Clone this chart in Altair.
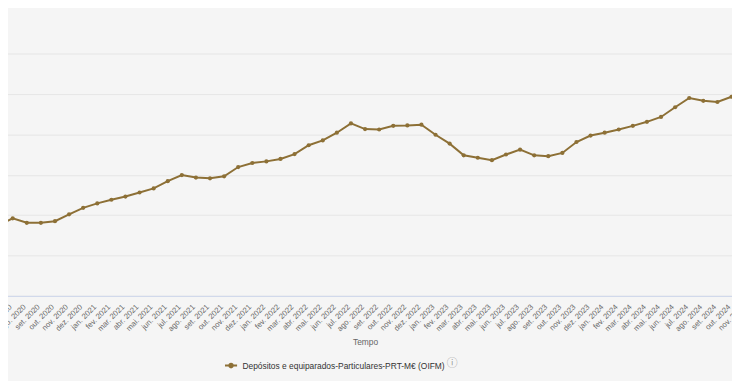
import altair as alt
import pandas as pd

series_name = "Depósitos e equiparados-Particulares-PRT-M€ (OIFM)"
month_names = ["jan.", "fev.", "mar.", "abr.", "mai.", "jun.",
               "jul.", "ago.", "set.", "out.", "nov.", "dez."]
months = [f"{m} {y}" for y in range(2020, 2025) for m in month_names][6:59]

values = [
    157470, 159200, 158100, 158100, 158500, 160200,
    161800, 162900, 163800, 164600, 165600, 166600,
    168400, 169900, 169300, 169100, 169600, 171900,
    172900, 173300, 173900, 175100, 177300, 178500,
    180400, 182700, 181300, 181200, 182100, 182200,
    182400, 179900, 177700, 174800, 174200, 173600,
    175000, 176200, 174800, 174600, 175400, 178100,
    179700, 180400, 181200, 182100, 183100, 184300,
    186700, 189000, 188300, 188000, 189300,
]
grid_values = [140000, 150000, 160000, 170000, 180000, 190000, 200000]

line_color = "#8d7036"
df = pd.DataFrame({"Tempo": months, "valor": values, "serie": series_name})

color = alt.Color(
    "serie:N",
    scale=alt.Scale(domain=[series_name], range=[line_color]),
    legend=alt.Legend(
        title=None, orient="none", legendX=218, legendY=308,
        labelFont="Liberation Sans", labelFontSize=8.5, labelColor="#333333",
        labelLimit=0,
        symbolType="M-1,0L1,0M-0.3,0A0.3,0.3 0 1,1 0.3,0A0.3,0.3 0 1,1 -0.3,0Z",
        symbolSize=150, symbolStrokeWidth=2, symbolStrokeColor=line_color,
        symbolFillColor=line_color, labelOffset=4,
    ),
)

x = alt.X(
    "Tempo:N", sort=months,
    scale=alt.Scale(type="point", range=[-9.5, 731.5], padding=0),
    axis=alt.Axis(
        labelAngle=315, labelAlign="right", labelBaseline="top",
        labelFont="Liberation Sans", labelFontSize=7.8,
        labelColor="#666666", ticks=False, domainColor="#ccd6eb",
        labelPadding=7, labelOffset=9, grid=False,
        title="Tempo", titleFont="Liberation Sans",
        titleFontSize=8.5, titleFontWeight="normal", titleColor="#666666",
        titleY=46, titleBaseline="middle",
    ),
)
y = alt.Y(
    "valor:Q",
    scale=alt.Scale(domain=[140000, 200000], nice=False, zero=False),
    axis=alt.Axis(values=grid_values, labels=False, ticks=False, domain=False,
                  grid=True, gridColor="#e6e6e6", title=None),
)

base = alt.Chart(df).encode(x=x, y=y, color=color)
line = base.mark_line(strokeWidth=2, clip=True)
points = base.mark_point(filled=True, size=18, opacity=1, clip=True)

icon = alt.Chart(pd.DataFrame({"t": ["ⓘ"]})).mark_text(
    font="Noto Sans CJK JP", fontSize=11, color="#999999"
).encode(text="t:N", x=alt.value(449), y=alt.value(314))

chart = alt.layer(line, points, icon).properties(
    width=732, height=245,
    background="#f5f5f5",
    padding={"left": 0, "top": 44, "right": 0, "bottom": 84},
    autosize=alt.AutoSizeParams(type="none"),
).configure_view(stroke=None)

chart.save("out.html", embed_options={"renderer": "svg", "actions": False})
